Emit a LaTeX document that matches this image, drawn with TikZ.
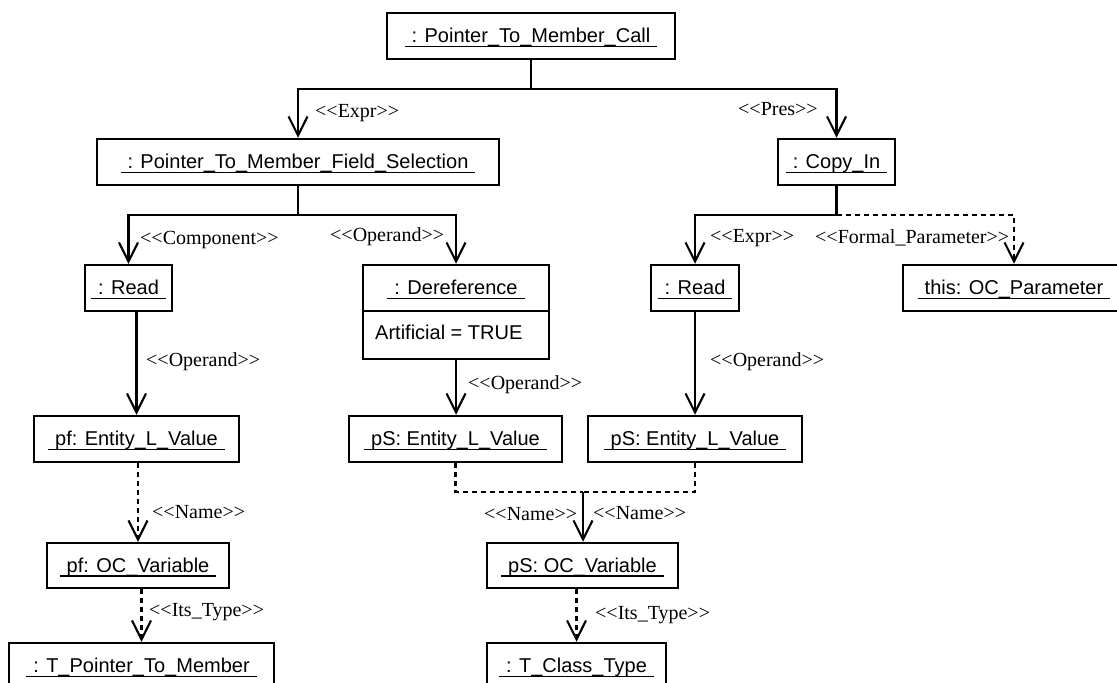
\documentclass[tikz,border=0pt]{standalone}
\usepackage{fontspec}
\usetikzlibrary{arrows.meta}
\newfontfamily\boxfont{Liberation Sans}
\newfontfamily\lblfont{Liberation Serif}
% underlined object name, the rule running a little past both ends
\newcommand\objname[1]{\setbox0=\hbox{\hspace{7pt}#1\hspace{7pt}}\rlap{\rule[-4.5pt]{\wd0}{1.2pt}}\box0}
\tikzset{
  obj/.style={draw, line width=2.5pt, rectangle, inner sep=0pt, minimum height=46pt,
    font=\boxfont\fontsize{20}{24}\selectfont, text height=16pt, text depth=3pt},
  lbl/.style={inner sep=0pt, anchor=base west, font=\lblfont\fontsize{20}{24}\selectfont},
  link/.style={line width=2.1pt},
  conn/.style={link, -{Straight Barb[length=19pt, width=19pt]}},
  dashedline/.style={dash pattern=on 5pt off 4pt}
}
\begin{document}
\begin{tikzpicture}[x=1pt, y=-1pt, line join=miter]
\fill[white] (0,0) rectangle (1117,683);
\useasboundingbox (0,0) rectangle (1117,683);
\clip (0,0) rectangle (1117,683);

% objects
\node[obj, minimum width=288pt] (call)   at (531,36)    {\objname{: Pointer\_To\_Member\_Call}};
\node[obj, minimum width=402pt] (fsel)   at (298,162)   {\objname{: Pointer\_To\_Member\_Field\_Selection}};
\node[obj, minimum width=117pt] (copyin) at (836.5,162) {\objname{: Copy\_In}};
\node[obj, minimum width=87pt]  (readL)  at (128.5,288) {\objname{: Read}};
\node[obj, minimum width=186pt] (dereftop)  at (456,288) {\objname{: Dereference}};
\node[obj, minimum width=186pt, minimum height=48pt] (derefattr) at (456,335) {};
\node[inner sep=0pt, anchor=base west, font=\boxfont\fontsize{20}{24}\selectfont] (artif) at (375,339) {Artificial = TRUE};
\node[obj, minimum width=88pt]  (readR)  at (695,288)   {\objname{: Read}};
\node[obj, minimum width=222pt] (this)   at (1014,288)  {\objname{this: OC\_Parameter}};
\node[obj, minimum width=205pt] (pfE)    at (136.5,439) {\objname{pf: Entity\_L\_Value}};
\node[obj, minimum width=213pt] (pSE1)   at (455.5,439) {\objname{pS: Entity\_L\_Value}};
\node[obj, minimum width=214pt] (pSE2)   at (695,439)   {\objname{pS: Entity\_L\_Value}};
\node[obj, minimum width=182pt, minimum height=45pt] (pfV) at (138,565.5) {\objname{pf: OC\_Variable}};
\node[obj, minimum width=191pt, minimum height=45pt] (pSV) at (582.5,565.5) {\objname{pS: OC\_Variable}};
\node[obj, minimum width=265pt] (tptm)   at (141.5,666) {\objname{: T\_Pointer\_To\_Member}};
\node[obj, minimum width=179pt] (tcls)   at (576.5,666) {\objname{: T\_Class\_Type}};

% junctions
\coordinate (j1) at (531,89);
\coordinate (j2) at (298,215);
\coordinate (j3) at (836.5,215);
\coordinate (m)  at (583,492);

% links
\draw[conn] (call.south) -- (j1) -| (fsel.north);
\draw[conn] (j1) -| (copyin.north);
\draw[conn] (fsel.south) -- (j2) -| (readL.north);
\draw[conn] (j2) -| (dereftop.north);
\draw[conn] (copyin.south) -- (j3) -| (readR.north);
\draw[conn, dashedline] (j3) -| (this.north);
\draw[conn] (readL.south -| pfE.north) -- (pfE.north);
\draw[conn] (derefattr.south) -- (derefattr.south |- pSE1.north);
\draw[conn] (readR.south) -- (pSE2.north);
\draw[conn, dashedline] (pfE.south -| pfV.north) -- (pfV.north);
\draw[link, dashedline] (pSE1.south) |- (m);
\draw[link, dashedline] (pSE2.south) |- (m);
\draw[conn] (m) -- (m |- pSV.north);
\draw[conn, dashedline] (pfV.south -| tptm.north) -- (tptm.north);
\draw[conn, dashedline] (pSV.south -| tcls.north) -- (tcls.north);

% stereotype labels
\node[lbl] (l1)  at (315,117) {<<Expr>>};
\node[lbl] (l2)  at (738,115) {<<Pres>>};
\node[lbl] (l3)  at (140,244) {<<Component>>};
\node[lbl] (l4)  at (330,241) {<<Operand>>};
\node[lbl] (l5)  at (710,242) {<<Expr>>};
\node[lbl] (l6)  at (815,243) {<<Formal\_Parameter>>};
\node[lbl] (l7)  at (146,366) {<<Operand>>};
\node[lbl] (l8)  at (468,389) {<<Operand>>};
\node[lbl] (l9)  at (710,366) {<<Operand>>};
\node[lbl] (l10) at (152,518) {<<Name>>};
\node[lbl] (l11) at (484,520) {<<Name>>};
\node[lbl] (l12) at (593,519) {<<Name>>};
\node[lbl] (l13) at (149,616) {<<Its\_Type>>};
\node[lbl] (l14) at (595,619) {<<Its\_Type>>};
\end{tikzpicture}
\end{document}
